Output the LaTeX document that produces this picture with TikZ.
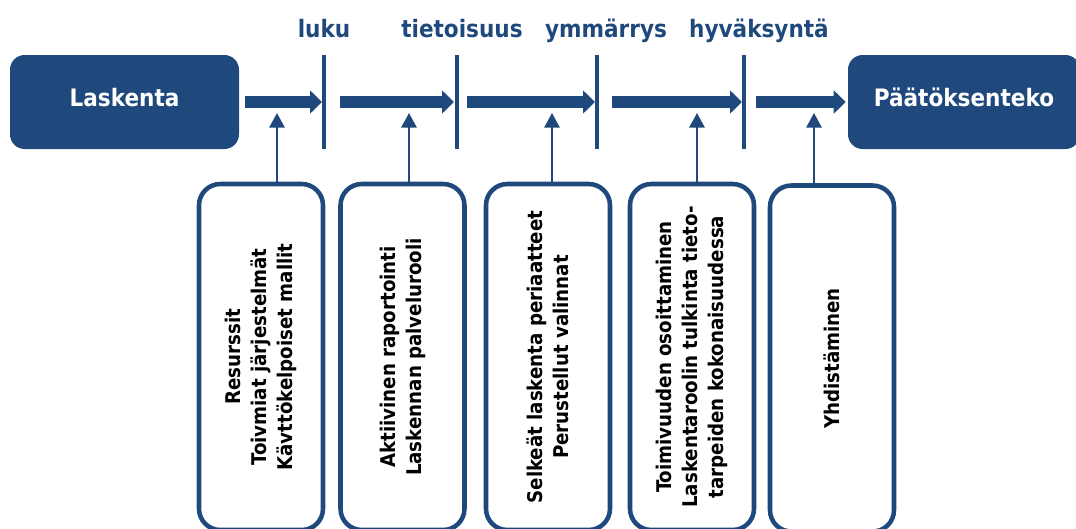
\documentclass[tikz,border=0pt]{standalone}
\usepackage{fontspec}
\setmainfont{DejaVu Sans Condensed}
\usetikzlibrary{arrows.meta}
\definecolor{deepblue}{HTML}{1F497D}
\tikzset{
  endbox/.style={fill=deepblue, rounded corners=11pt, text=white, inner sep=0pt,
    minimum height=70.5pt, text depth=7pt, font=\fontsize{18}{22}\selectfont\bfseries},
  stage/.style={text=deepblue, anchor=base, font=\fontsize{18}{22}\selectfont\bfseries},
  gate/.style={draw=deepblue, line width=2.6pt},
  flow/.style={draw=deepblue, line width=8.5pt, -{Triangle[length=9pt,width=17pt]}},
  lift/.style={draw=deepblue, line width=1.5pt, -{Triangle[length=11pt,width=11.5pt]}},
  factor/.style={draw=deepblue, line width=3.4pt, rounded corners=16pt, rotate=90,
    minimum width=259.5pt, minimum height=93pt, inner sep=0pt, align=center,
    font=\fontsize{15.2}{19.5}\selectfont\bfseries}
}
\begin{document}
\begin{tikzpicture}[x=0.75pt,y=-0.75pt]
  \useasboundingbox (0,0) rectangle (1076,529);
  \clip (0,0) rectangle (1076,529);
  % end boxes
  \node[endbox, minimum width=171.75pt] (laskenta) at (124.5,102) {Laskenta};
  \node[endbox, minimum width=174pt] (paatos) at (964,102) {Päätöksenteko};
  % stage gates
  \coordinate (g1) at (324,102);
  \coordinate (g2) at (457,102);
  \coordinate (g3) at (597,102);
  \coordinate (g4) at (744,102);
  \draw[gate] (g1) ++(0,-47) -- ++(0,94);
  \draw[gate] (g2) ++(0,-47) -- ++(0,94);
  \draw[gate] (g3) ++(0,-47) -- ++(0,94);
  \draw[gate] (g4) ++(0,-47) -- ++(0,94);
  \node[stage] (luku) at (324,37) {luku};
  \node[stage] (tietoisuus) at (462,37) {tietoisuus};
  \node[stage] (ymmarrys) at (606,37) {ymmärrys};
  \node[stage] (hyvaksynta) at (759,37) {hyväksyntä};
  % main flow
  \draw[flow, shorten <=4.5pt, shorten >=1.5pt] (laskenta.east) -- (g1);
  \draw[flow, shorten <=12pt, shorten >=2.25pt] (g1) -- (g2);
  \draw[flow, shorten <=7.5pt, shorten >=1.5pt] (g2) -- (g3);
  \draw[flow, shorten <=11.25pt, shorten >=1.5pt] (g3) -- (g4);
  \draw[flow, shorten <=9pt, shorten >=1.5pt] (g4) -- (paatos.west);
  % factor boxes
  \node[factor] (resurssit) at (261,357) {Resurssit\\Toivmiat järjestelmät\\Kävttökelpoiset mallit};
  \node[factor] (raportointi) at (402.5,357) {Aktiivinen raportointi\\Laskennan palvelurooli};
  \node[factor] (periaatteet) at (548,357) {Selkeät laskenta periaatteet\\Perustellut valinnat};
  \node[factor] (toimivuus) at (692,357) {Toimivuuden osoittaminen\\Laskentaroolin tulkinta tieto-\\tarpeiden kokonaisuudessa};
  \node[factor] (yhdistaminen) at (832,358.5) {Yhdistäminen};
  % lifts
  \coordinate (l1) at (277,113);
  \coordinate (l2) at (409,113);
  \coordinate (l3) at (552,113);
  \coordinate (l4) at (697,113);
  \coordinate (l5) at (814,113);
  \draw[lift] (l1 |- resurssit.east) -- (l1);
  \draw[lift] (l2 |- raportointi.east) -- (l2);
  \draw[lift] (l3 |- periaatteet.east) -- (l3);
  \draw[lift] (l4 |- toimivuus.east) -- (l4);
  \draw[lift] (l5 |- yhdistaminen.east) -- (l5);
\end{tikzpicture}
\end{document}
